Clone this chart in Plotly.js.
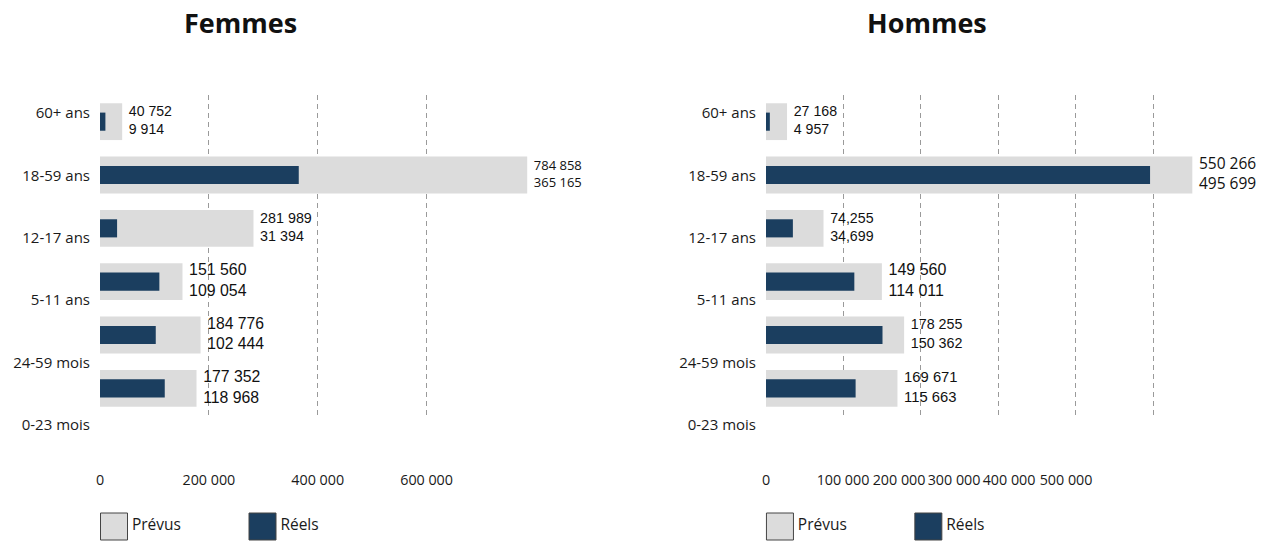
<!DOCTYPE html>
<html>
<head>
<meta charset="utf-8">
<script src="https://cdn.plot.ly/plotly-3.0.1.min.js"></script>
<style>html,body{margin:0;padding:0;background:#fff;}#chart{width:1269px;height:542px;}</style>
</head>
<body>
<div id="chart"></div>
<script>
// ---- data (bottom to top) ----
const categories = ['0-23 mois', '24-59 mois', '5-11 ans', '12-17 ans', '18-59 ans', '60+ ans'];
const seriesNames = ['Prévus', 'Réels'];

const femmesPrevus = [177352, 184776, 151560, 281989, 784858, 40752];
const femmesReels  = [118968, 102444, 109054, 31394, 365165, 9914];
const hommesPrevus = [169671, 178255, 149560, 74255, 550266, 27168];
const hommesReels  = [115663, 150362, 114011, 34699, 495699, 4957];

const femmesPrevusText = ['177 352', '184 776', '151 560', '281 989', '784 858', '40 752'];
const femmesReelsText  = ['118 968', '102 444', '109 054', '31 394', '365 165', '9 914'];
const hommesPrevusText = ['169 671', '178 255', '149 560', '74,255', '550 266', '27 168'];
const hommesReelsText  = ['115 663', '150 362', '114 011', '34,699', '495 699', '4 957'];

const femmesTickVals = [0, 200000, 400000, 600000];
const femmesTickText = ['0', '200 000', '400 000', '600 000'];
const hommesTickText = ['0', '100 000', '200 000', '300 000', '400 000', '500 000'];

// ---- styles ----
const GREY = '#dcdcdc';
const NAVY = '#1b3e5f';
const LS = 'Liberation Sans, Arial, sans-serif';
const OS = 'Open Sans, sans-serif';
const yTickFont = {family: OS, size: 15, color: '#1a1a1a'};
const xTickFont = {family: OS, size: 14.3, color: '#1a1a1a'};

const W = 1269, H = 542;
const fx = px => px / W;
const fy = px => 1 - px / H;

const femmesRange = [0, 790000];
const hommesRange = [0, 555000];
// label positions of the Hommes axis as printed in the reference
const hommesTickVals = [0, 99400, 171700, 242700, 313700, 387300];

function joinText(a, b) { return a.map((v, i) => v + '<br>' + b[i]); }

function barTrace(name, x, color, width, xa, ya) {
  return {type: 'bar', orientation: 'h', name: name, y: categories, x: x, xaxis: xa, yaxis: ya,
    marker: {color: color, line: {width: 0}}, width: width, hoverinfo: 'skip', showlegend: false};
}
function valueTrace(x, text, fam, sizes, xa, ya) {
  return {type: 'scatter', mode: 'markers+text', x: x, y: categories, xaxis: xa, yaxis: ya,
    marker: {size: 9, opacity: 0, color: 'rgba(0,0,0,0)'},
    text: text, textposition: 'middle right', cliponaxis: false,
    textfont: {family: fam, size: sizes, color: '#111'}, hoverinfo: 'skip', showlegend: false};
}
function legendTrace(xa, ya) {
  return {type: 'scatter', mode: 'markers+text', x: seriesNames, y: [0, 0], xaxis: xa, yaxis: ya,
    marker: {symbol: 'square', size: 27, color: [GREY, NAVY], line: {width: 1, color: '#444'}},
    text: seriesNames, textposition: 'middle right', textfont: {family: OS, size: 15.5, color: '#1a1a1a'},
    cliponaxis: false, hoverinfo: 'skip', showlegend: false};
}

const traces = [
  barTrace(seriesNames[0], femmesPrevus, GREY, 0.69, 'x', 'y'),
  barTrace(seriesNames[1], femmesReels, NAVY, 0.34, 'x', 'y'),
  valueTrace(femmesPrevus, joinText(femmesPrevusText, femmesReelsText),
    [LS, LS, LS, LS, OS, LS], [15.8, 15.7, 15.9, 14.3, 13, 14.1], 'x', 'y'),
  barTrace(seriesNames[0], hommesPrevus, GREY, 0.69, 'x4', 'y4'),
  barTrace(seriesNames[1], hommesReels, NAVY, 0.34, 'x4', 'y4'),
  valueTrace(hommesPrevus, joinText(hommesPrevusText, hommesReelsText),
    [LS, LS, LS, LS, OS, LS], [14.8, 14.3, 16, 14.2, 15.5, 14.2], 'x4', 'y4'),
  {type: 'scatter', x: [null], y: [null], xaxis: 'x2', yaxis: 'y2', hoverinfo: 'skip', showlegend: false},
  {type: 'scatter', x: [null], y: [null], xaxis: 'x5', yaxis: 'y5', hoverinfo: 'skip', showlegend: false},
  legendTrace('x3', 'y3'),
  legendTrace('x6', 'y6')
];

const barY = [fy(415), fy(95)];
const labY = [fy(456.2), fy(81.8)];
const gridStyle = {showgrid: true, gridcolor: '#9a9a9a', gridwidth: 1, griddash: '5px,4px'};

function barXAxis(dom, range, yref, dtick) {
  return Object.assign({domain: dom, range: range, anchor: yref, showticklabels: false,
    zeroline: false, showline: false, ticks: '', fixedrange: true, dtick: dtick, tick0: 0}, gridStyle);
}
function barYAxis(xref) {
  return {domain: barY, type: 'category', categoryarray: categories, categoryorder: 'array',
    range: [-0.5, 5.5], anchor: xref, showticklabels: false, showgrid: false, zeroline: false,
    showline: false, ticks: '', fixedrange: true};
}
function labXAxis(dom, range, vals, text) {
  return {domain: dom, range: range, anchor: 'free', position: fy(470), tickmode: 'array',
    tickvals: vals, ticktext: text, tickangle: 0, showgrid: false, zeroline: false, showline: false,
    ticks: '', tickfont: xTickFont, fixedrange: true};
}
function labYAxis(xref) {
  return {domain: labY, range: [-0.5, 5.5], anchor: xref, tickmode: 'array',
    tickvals: categories.map((c, i) => i), ticktext: categories, showgrid: false, zeroline: false,
    showline: false, ticks: '', tickfont: yTickFont, ticklabelstandoff: 9, fixedrange: true};
}
function legXAxis(dom) {
  return {domain: dom, type: 'category', categoryarray: seriesNames, categoryorder: 'array',
    range: [-0.5, 1.5], visible: false, fixedrange: true};
}
function legYAxis(xref) {
  return {domain: [fy(542), fy(511)], range: [-1, 1], anchor: xref, visible: false, fixedrange: true};
}

const femmesDom = [fx(100), fx(530)];
const hommesDom = [fx(766), fx(1196)];

const layout = {
  width: W, height: H,
  margin: {l: 0, r: 0, t: 0, b: 0},
  paper_bgcolor: '#fff', plot_bgcolor: 'rgba(0,0,0,0)',
  barmode: 'overlay', showlegend: false, hovermode: false,
  font: {family: OS, color: '#1a1a1a'},
  xaxis: barXAxis(femmesDom, femmesRange, 'y', 200000),
  yaxis: barYAxis('x'),
  xaxis2: labXAxis(femmesDom, femmesRange, femmesTickVals, femmesTickText),
  yaxis2: labYAxis('x2'),
  xaxis3: legXAxis([fx(39.75), fx(336.75)]),
  yaxis3: legYAxis('x3'),
  xaxis4: barXAxis(hommesDom, hommesRange, 'y4', 100000),
  yaxis4: barYAxis('x4'),
  xaxis5: labXAxis(hommesDom, hommesRange, hommesTickVals, hommesTickText),
  yaxis5: labYAxis('x5'),
  xaxis6: legXAxis([fx(705.75), fx(1002.55)]),
  yaxis6: legYAxis('x6'),
  annotations: [
    {text: 'Femmes', xref: 'paper', yref: 'paper', x: fx(240), y: fy(22), xanchor: 'center', yanchor: 'middle',
     showarrow: false, font: {family: OS, size: 27, weight: 'bold', color: '#111'}},
    {text: 'Hommes', xref: 'paper', yref: 'paper', x: fx(927), y: fy(22), xanchor: 'center', yanchor: 'middle',
     showarrow: false, font: {family: OS, size: 27, weight: 'bold', color: '#111'}}
  ]
};

Plotly.newPlot('chart', traces, layout, {staticPlot: true, displayModeBar: false});
</script>
</body>
</html>
